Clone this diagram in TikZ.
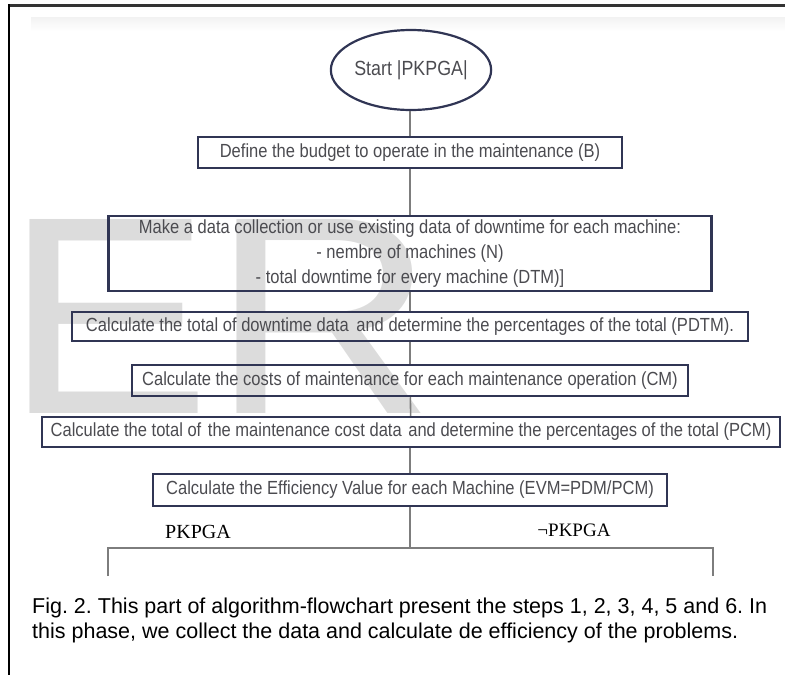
\documentclass[tikz,border=0pt]{standalone}
\usepackage{fontspec}
\setmainfont{Liberation Sans}
\newfontfamily\boxfont[FakeStretch=0.87]{Liberation Sans}
\newfontfamily\lblfont{Liberation Serif}
\usetikzlibrary{shapes.geometric}
\definecolor{boxline}{RGB}{48,53,84}
\definecolor{boxtext}{RGB}{75,75,80}
\definecolor{linkgray}{RGB}{125,125,125}
\definecolor{wmark}{RGB}{220,220,220}
\frenchspacing

\begin{document}
\begin{tikzpicture}[x=1pt,y=-1pt,
  box/.style={draw=boxline,line width=2.2pt,inner sep=0pt,align=center,text=boxtext,font=\boxfont\fontsize{19}{25}\selectfont},
  link/.style={draw=linkgray,line width=1.6pt}]
\useasboundingbox (0,0) rectangle (785,675);
% watermark, band and frame
\node[anchor=base west,inner sep=0pt,text=wmark,xscale=1.1,font=\fontsize{282}{282}\selectfont] (wm) at (4,413) {ER};
\shade[top color=gray!10,bottom color=white] (31,17) rectangle (785,31);
\draw[line width=3pt,black!80] (9,5) -- (785,5);
\draw[line width=2.5pt] (9,4) -- (9,675);
% steps
\node[box,ellipse,minimum width=137pt,minimum height=80pt,font=\boxfont\fontsize{20.5}{20}\selectfont] (start) at (411,70) {Start |PKPGA|};
\node[box,minimum width=424pt,minimum height=31pt] (budget) at (410,152.5) {Define the budget to operate in the maintenance (B)};
\node[box,minimum width=603pt,minimum height=75pt] (collect) at (410,253.5) {Make a data collection or use existing data of downtime for each machine:\\- nembre of machines (N)\\- total downtime for every machine (DTM)]};
\node[box,minimum width=676pt,minimum height=29pt] (pdtm) at (410,326.5) {Calculate the total of downtime data\hspace{3pt} and determine the percentages of the total (PDTM).};
\node[box,minimum width=556pt,minimum height=31pt] (cm) at (410,380.5) {Calculate the costs of maintenance for each maintenance operation (CM)};
\node[box,minimum width=738pt,minimum height=30pt] (pcm) at (411,432) {Calculate the total of\hspace{2pt} the maintenance cost data\hspace{2pt} and determine the percentages of the total (PCM)};
\node[box,minimum width=514pt,minimum height=32pt] (evm) at (410,490) {Calculate the Efficiency Value for each Machine (EVM=PDM/PCM)};
\draw[link] (start.south -| budget.north) -- (budget);
\draw[link] (budget) -- (collect);
\draw[link] (collect) -- (pdtm);
\draw[link] (pdtm) -- (cm);
\draw[link] (cm) -- (pcm);
\draw[link] (pcm.south -| evm.north) -- (evm);
% branch
\coordinate (split) at (410,548);
\coordinate (yes) at (108,576);
\coordinate (no) at (713,576);
\draw[link] (evm) -- (split);
\draw[link] (yes) |- (split) -| (no);
\node[font=\lblfont\fontsize{20}{20}\selectfont] (yeslbl) at (198,532) {PKPGA};
\node[font=\lblfont\fontsize{19}{19}\selectfont] (nolbl) at (574,530) {¬PKPGA};
% caption
\node[anchor=west,align=left,inner sep=0pt,font=\fontsize{21.5}{25}\selectfont] (caption) at (32,620.5) {Fig. 2. This part of algorithm-flowchart present the steps 1, 2, 3, 4, 5 and 6. In\\this phase, we collect the data and calculate de efficiency of the problems.};
\end{tikzpicture}
\end{document}
